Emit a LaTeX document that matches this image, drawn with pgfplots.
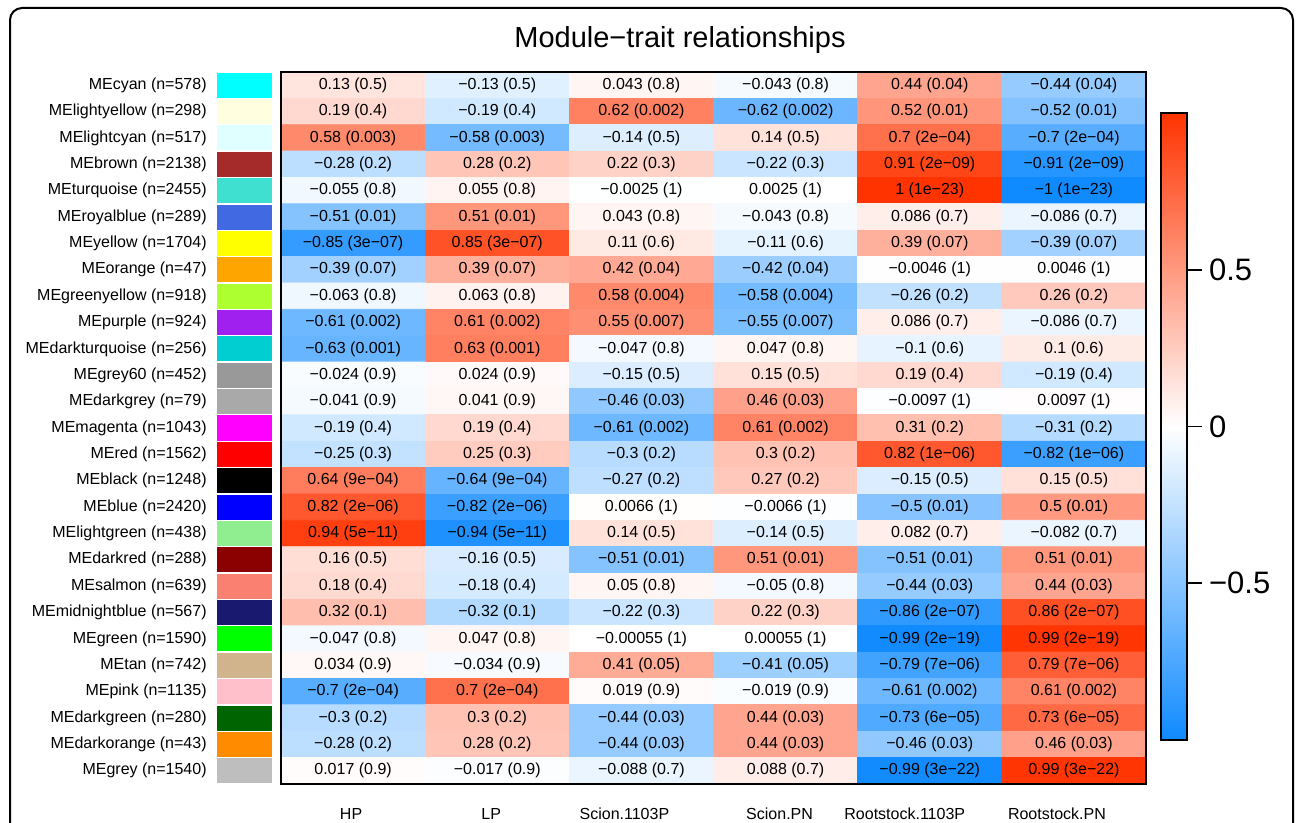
\documentclass[border=0pt]{standalone}
\usepackage{fontspec}
\setmainfont{Liberation Sans}
\usepackage{pgfplots}
\usepackage{pgfplotstable}
\pgfplotsset{compat=1.18}
\usetikzlibrary{calc}

\definecolor{m0}{RGB}{0,255,255}
\definecolor{m1}{RGB}{255,255,224}
\definecolor{m2}{RGB}{224,255,255}
\definecolor{m3}{RGB}{165,42,42}
\definecolor{m4}{RGB}{64,224,208}
\definecolor{m5}{RGB}{65,105,225}
\definecolor{m6}{RGB}{255,255,0}
\definecolor{m7}{RGB}{255,165,0}
\definecolor{m8}{RGB}{173,255,47}
\definecolor{m9}{RGB}{160,32,240}
\definecolor{m10}{RGB}{0,206,209}
\definecolor{m11}{RGB}{153,153,153}
\definecolor{m12}{RGB}{169,169,169}
\definecolor{m13}{RGB}{255,0,255}
\definecolor{m14}{RGB}{255,0,0}
\definecolor{m15}{RGB}{0,0,0}
\definecolor{m16}{RGB}{0,0,255}
\definecolor{m17}{RGB}{144,238,144}
\definecolor{m18}{RGB}{139,0,0}
\definecolor{m19}{RGB}{250,128,114}
\definecolor{m20}{RGB}{25,25,112}
\definecolor{m21}{RGB}{0,255,0}
\definecolor{m22}{RGB}{210,180,140}
\definecolor{m23}{RGB}{255,192,203}
\definecolor{m24}{RGB}{0,100,0}
\definecolor{m25}{RGB}{255,140,0}
\definecolor{m26}{RGB}{190,190,190}

\pgfplotstableread{
x y c lab
0 0 0.13 {0.13 (0.5)}
1 0 -0.13 {−0.13 (0.5)}
2 0 0.043 {0.043 (0.8)}
3 0 -0.043 {−0.043 (0.8)}
4 0 0.44 {0.44 (0.04)}
5 0 -0.44 {−0.44 (0.04)}
0 1 0.19 {0.19 (0.4)}
1 1 -0.19 {−0.19 (0.4)}
2 1 0.62 {0.62 (0.002)}
3 1 -0.62 {−0.62 (0.002)}
4 1 0.52 {0.52 (0.01)}
5 1 -0.52 {−0.52 (0.01)}
0 2 0.58 {0.58 (0.003)}
1 2 -0.58 {−0.58 (0.003)}
2 2 -0.14 {−0.14 (0.5)}
3 2 0.14 {0.14 (0.5)}
4 2 0.7 {0.7 (2e−04)}
5 2 -0.7 {−0.7 (2e−04)}
0 3 -0.28 {−0.28 (0.2)}
1 3 0.28 {0.28 (0.2)}
2 3 0.22 {0.22 (0.3)}
3 3 -0.22 {−0.22 (0.3)}
4 3 0.91 {0.91 (2e−09)}
5 3 -0.91 {−0.91 (2e−09)}
0 4 -0.055 {−0.055 (0.8)}
1 4 0.055 {0.055 (0.8)}
2 4 -0.0025 {−0.0025 (1)}
3 4 0.0025 {0.0025 (1)}
4 4 1 {1 (1e−23)}
5 4 -1 {−1 (1e−23)}
0 5 -0.51 {−0.51 (0.01)}
1 5 0.51 {0.51 (0.01)}
2 5 0.043 {0.043 (0.8)}
3 5 -0.043 {−0.043 (0.8)}
4 5 0.086 {0.086 (0.7)}
5 5 -0.086 {−0.086 (0.7)}
0 6 -0.85 {−0.85 (3e−07)}
1 6 0.85 {0.85 (3e−07)}
2 6 0.11 {0.11 (0.6)}
3 6 -0.11 {−0.11 (0.6)}
4 6 0.39 {0.39 (0.07)}
5 6 -0.39 {−0.39 (0.07)}
0 7 -0.39 {−0.39 (0.07)}
1 7 0.39 {0.39 (0.07)}
2 7 0.42 {0.42 (0.04)}
3 7 -0.42 {−0.42 (0.04)}
4 7 -0.0046 {−0.0046 (1)}
5 7 0.0046 {0.0046 (1)}
0 8 -0.063 {−0.063 (0.8)}
1 8 0.063 {0.063 (0.8)}
2 8 0.58 {0.58 (0.004)}
3 8 -0.58 {−0.58 (0.004)}
4 8 -0.26 {−0.26 (0.2)}
5 8 0.26 {0.26 (0.2)}
0 9 -0.61 {−0.61 (0.002)}
1 9 0.61 {0.61 (0.002)}
2 9 0.55 {0.55 (0.007)}
3 9 -0.55 {−0.55 (0.007)}
4 9 0.086 {0.086 (0.7)}
5 9 -0.086 {−0.086 (0.7)}
0 10 -0.63 {−0.63 (0.001)}
1 10 0.63 {0.63 (0.001)}
2 10 -0.047 {−0.047 (0.8)}
3 10 0.047 {0.047 (0.8)}
4 10 -0.1 {−0.1 (0.6)}
5 10 0.1 {0.1 (0.6)}
0 11 -0.024 {−0.024 (0.9)}
1 11 0.024 {0.024 (0.9)}
2 11 -0.15 {−0.15 (0.5)}
3 11 0.15 {0.15 (0.5)}
4 11 0.19 {0.19 (0.4)}
5 11 -0.19 {−0.19 (0.4)}
0 12 -0.041 {−0.041 (0.9)}
1 12 0.041 {0.041 (0.9)}
2 12 -0.46 {−0.46 (0.03)}
3 12 0.46 {0.46 (0.03)}
4 12 -0.0097 {−0.0097 (1)}
5 12 0.0097 {0.0097 (1)}
0 13 -0.19 {−0.19 (0.4)}
1 13 0.19 {0.19 (0.4)}
2 13 -0.61 {−0.61 (0.002)}
3 13 0.61 {0.61 (0.002)}
4 13 0.31 {0.31 (0.2)}
5 13 -0.31 {−0.31 (0.2)}
0 14 -0.25 {−0.25 (0.3)}
1 14 0.25 {0.25 (0.3)}
2 14 -0.3 {−0.3 (0.2)}
3 14 0.3 {0.3 (0.2)}
4 14 0.82 {0.82 (1e−06)}
5 14 -0.82 {−0.82 (1e−06)}
0 15 0.64 {0.64 (9e−04)}
1 15 -0.64 {−0.64 (9e−04)}
2 15 -0.27 {−0.27 (0.2)}
3 15 0.27 {0.27 (0.2)}
4 15 -0.15 {−0.15 (0.5)}
5 15 0.15 {0.15 (0.5)}
0 16 0.82 {0.82 (2e−06)}
1 16 -0.82 {−0.82 (2e−06)}
2 16 0.0066 {0.0066 (1)}
3 16 -0.0066 {−0.0066 (1)}
4 16 -0.5 {−0.5 (0.01)}
5 16 0.5 {0.5 (0.01)}
0 17 0.94 {0.94 (5e−11)}
1 17 -0.94 {−0.94 (5e−11)}
2 17 0.14 {0.14 (0.5)}
3 17 -0.14 {−0.14 (0.5)}
4 17 0.082 {0.082 (0.7)}
5 17 -0.082 {−0.082 (0.7)}
0 18 0.16 {0.16 (0.5)}
1 18 -0.16 {−0.16 (0.5)}
2 18 -0.51 {−0.51 (0.01)}
3 18 0.51 {0.51 (0.01)}
4 18 -0.51 {−0.51 (0.01)}
5 18 0.51 {0.51 (0.01)}
0 19 0.18 {0.18 (0.4)}
1 19 -0.18 {−0.18 (0.4)}
2 19 0.05 {0.05 (0.8)}
3 19 -0.05 {−0.05 (0.8)}
4 19 -0.44 {−0.44 (0.03)}
5 19 0.44 {0.44 (0.03)}
0 20 0.32 {0.32 (0.1)}
1 20 -0.32 {−0.32 (0.1)}
2 20 -0.22 {−0.22 (0.3)}
3 20 0.22 {0.22 (0.3)}
4 20 -0.86 {−0.86 (2e−07)}
5 20 0.86 {0.86 (2e−07)}
0 21 -0.047 {−0.047 (0.8)}
1 21 0.047 {0.047 (0.8)}
2 21 -0.00055 {−0.00055 (1)}
3 21 0.00055 {0.00055 (1)}
4 21 -0.99 {−0.99 (2e−19)}
5 21 0.99 {0.99 (2e−19)}
0 22 0.034 {0.034 (0.9)}
1 22 -0.034 {−0.034 (0.9)}
2 22 0.41 {0.41 (0.05)}
3 22 -0.41 {−0.41 (0.05)}
4 22 -0.79 {−0.79 (7e−06)}
5 22 0.79 {0.79 (7e−06)}
0 23 -0.7 {−0.7 (2e−04)}
1 23 0.7 {0.7 (2e−04)}
2 23 0.019 {0.019 (0.9)}
3 23 -0.019 {−0.019 (0.9)}
4 23 -0.61 {−0.61 (0.002)}
5 23 0.61 {0.61 (0.002)}
0 24 -0.3 {−0.3 (0.2)}
1 24 0.3 {0.3 (0.2)}
2 24 -0.44 {−0.44 (0.03)}
3 24 0.44 {0.44 (0.03)}
4 24 -0.73 {−0.73 (6e−05)}
5 24 0.73 {0.73 (6e−05)}
0 25 -0.28 {−0.28 (0.2)}
1 25 0.28 {0.28 (0.2)}
2 25 -0.44 {−0.44 (0.03)}
3 25 0.44 {0.44 (0.03)}
4 25 -0.46 {−0.46 (0.03)}
5 25 0.46 {0.46 (0.03)}
0 26 0.017 {0.017 (0.9)}
1 26 -0.017 {−0.017 (0.9)}
2 26 -0.088 {−0.088 (0.7)}
3 26 0.088 {0.088 (0.7)}
4 26 -0.99 {−0.99 (3e−22)}
5 26 0.99 {0.99 (3e−22)}
}\heat

\begin{document}
\begin{tikzpicture}
\useasboundingbox (0,0) rectangle (648pt,411.5pt);
\draw[line width=1pt, rounded corners=6pt] (5pt,-20pt) rectangle (646.5pt,407.5pt);
\node[anchor=base, font=\fontsize{14.5}{16}\selectfont] at (340pt,387.5pt) {Module−trait relationships};

% swatches
\begin{axis}[
  at={(108.35pt,19.5pt)}, anchor=south west,
  scale only axis, width=27.8pt, height=356pt,
  xmin=0, xmax=1, ymin=-0.5, ymax=26.5, y dir=reverse,
  axis line style={draw=none}, tick style={draw=none},
  xtick=\empty, ytick={0,...,26},
  yticklabels={{MEcyan (n=578)},{MElightyellow (n=298)},{MElightcyan (n=517)},{MEbrown (n=2138)},{MEturquoise (n=2455)},{MEroyalblue (n=289)},{MEyellow (n=1704)},{MEorange (n=47)},{MEgreenyellow (n=918)},{MEpurple (n=924)},{MEdarkturquoise (n=256)},{MEgrey60 (n=452)},{MEdarkgrey (n=79)},{MEmagenta (n=1043)},{MEred (n=1562)},{MEblack (n=1248)},{MEblue (n=2420)},{MElightgreen (n=438)},{MEdarkred (n=288)},{MEsalmon (n=639)},{MEmidnightblue (n=567)},{MEgreen (n=1590)},{MEtan (n=742)},{MEpink (n=1135)},{MEdarkgreen (n=280)},{MEdarkorange (n=43)},{MEgrey (n=1540)}},
  yticklabel style={font=\fontsize{8}{9}\selectfont, xshift=-1.5pt},
  sw/.style={xbar, bar width=0.95, bar shift=0pt, draw=none, fill=#1},
]
\addplot[sw=m0] coordinates {(1,0)};
\addplot[sw=m1] coordinates {(1,1)};
\addplot[sw=m2] coordinates {(1,2)};
\addplot[sw=m3] coordinates {(1,3)};
\addplot[sw=m4] coordinates {(1,4)};
\addplot[sw=m5] coordinates {(1,5)};
\addplot[sw=m6] coordinates {(1,6)};
\addplot[sw=m7] coordinates {(1,7)};
\addplot[sw=m8] coordinates {(1,8)};
\addplot[sw=m9] coordinates {(1,9)};
\addplot[sw=m10] coordinates {(1,10)};
\addplot[sw=m11] coordinates {(1,11)};
\addplot[sw=m12] coordinates {(1,12)};
\addplot[sw=m13] coordinates {(1,13)};
\addplot[sw=m14] coordinates {(1,14)};
\addplot[sw=m15] coordinates {(1,15)};
\addplot[sw=m16] coordinates {(1,16)};
\addplot[sw=m17] coordinates {(1,17)};
\addplot[sw=m18] coordinates {(1,18)};
\addplot[sw=m19] coordinates {(1,19)};
\addplot[sw=m20] coordinates {(1,20)};
\addplot[sw=m21] coordinates {(1,21)};
\addplot[sw=m22] coordinates {(1,22)};
\addplot[sw=m23] coordinates {(1,23)};
\addplot[sw=m24] coordinates {(1,24)};
\addplot[sw=m25] coordinates {(1,25)};
\addplot[sw=m26] coordinates {(1,26)};
\end{axis}

% heatmap
\begin{axis}[
  at={(140.5pt,19.5pt)}, anchor=south west,
  scale only axis, width=432.5pt, height=356pt,
  xmin=-0.5, xmax=5.5, ymin=-0.5, ymax=26.5, y dir=reverse,
  enlargelimits=false, axis on top,
  axis line style={line width=0.8pt, black},
  xtick={0,...,5},
  xticklabels={{HP\hspace*{2pt}},{LP\hspace*{6pt}},{Scion.1103P\hspace*{17pt}},{Scion.PN\hspace*{6pt}},{Rootstock.1103P\hspace*{25pt}},{Rootstock.PN\hspace*{17pt}}},
  xticklabel style={font=\fontsize{8}{9}\selectfont, anchor=base, yshift=-17.5pt},
  ytick=\empty, tick style={draw=none},
  colormap={bwr}{rgb255=(16,138,255) rgb255=(255,255,255) rgb255=(255,51,0)},
  point meta min=-1, point meta max=1,
  colorbar right,
  colorbar style={
    at={($(parent axis.south east)+(-1pt,22pt)$)}, anchor=south west,
    scale only axis, width=13pt, height=313.5pt,
    axis line style={line width=0.8pt, black},
    ytick={-0.5,0,0.5}, yticklabels={−0.5,0,0.5},
    ytick pos=right, tick align=outside, major tick length=7.5pt,
    ytick style={draw=black, line width=0.8pt},
    yticklabel style={font=\fontsize{15.5}{17}\selectfont},
  },
]
\addplot[matrix plot*, mesh/cols=6, point meta=explicit] table[x=x, y=y, meta=c] {\heat};
\addplot[only marks, mark=none, point meta=explicit symbolic,
  nodes near coords, nodes near coords align=center,
  nodes near coords style={font=\fontsize{8}{9}\selectfont, anchor=center, inner sep=0pt, text=black}]
  table[x=x, y=y, meta=lab] {\heat};
\end{axis}
\end{tikzpicture}
\end{document}
